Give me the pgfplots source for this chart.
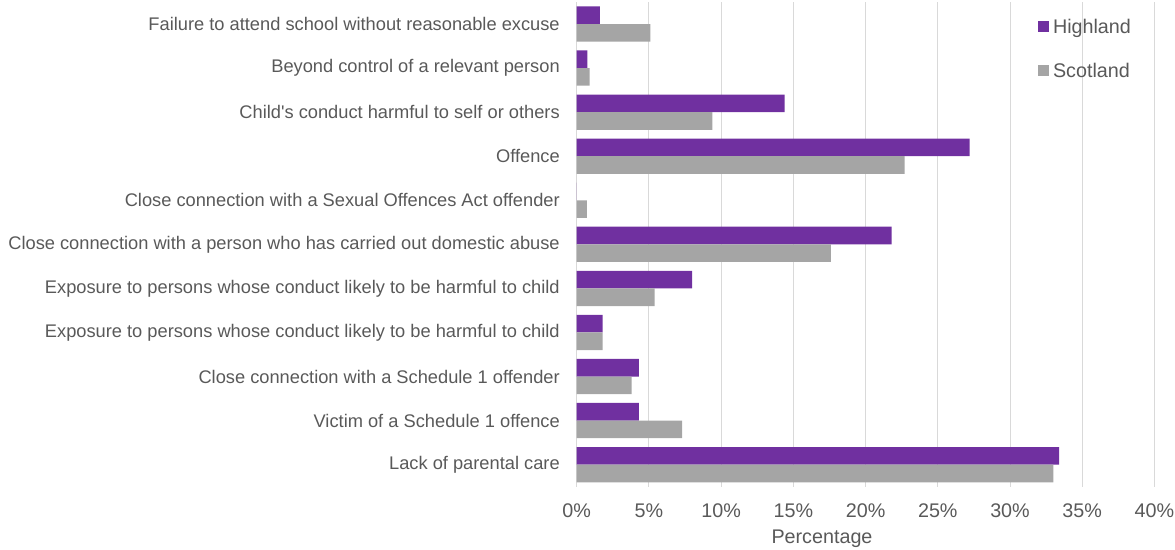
\documentclass[border=0pt]{standalone}
\usepackage{fontspec}
\setmainfont{Liberation Sans}[Ligatures=TeXOff]
\usepackage{pgfplots}
\pgfplotsset{compat=1.18}
\definecolor{hl}{HTML}{7030A0}
\definecolor{sc}{HTML}{A5A5A5}
\definecolor{txt}{HTML}{595959}
\definecolor{grd}{HTML}{D9D9D9}
\newcommand{\lblfont}{\fontsize{13.7}{16}\selectfont}
\newcommand{\legfont}{\fontsize{14.8}{17}\selectfont}
\begin{document}
\begin{tikzpicture}
\useasboundingbox (-432.5pt,-47.5pt) rectangle (448.75pt,365pt);
\begin{axis}[
  at={(0,0)}, anchor=south west,
  scale only axis, width=433.35pt, height=363.5pt,
  xbar, bar width=0.4,
  xmin=0, xmax=40, ymin=-0.5, ymax=10.5,
  xtick={0,5,...,40},
  xticklabels={0\%,5\%,10\%,15\%,20\%,25\%,30\%,35\%,40\%},
  ytick={0,...,10},
  yticklabels={Lack of parental care,
    Victim of a Schedule 1 offence,
    Close connection with a Schedule 1 offender,
    Exposure to persons whose conduct likely to be harmful to child,
    Exposure to persons whose conduct likely to be harmful to child,
    Close connection with a person who has carried out domestic abuse,
    Close connection with a Sexual Offences Act offender,
    Offence,
    Child's conduct harmful to self or others,
    Beyond control of a relevant person,
    Failure to attend school without reasonable excuse},
  axis line style={draw=none},
  major tick length=0pt,
  xmajorgrids, grid style={grd, line width=0.75pt},
  tick label style={font=\lblfont, text=txt},
  xticklabel style={inner sep=0pt, yshift=-12.5pt, font=\legfont},
  yticklabel style={inner sep=0pt, xshift=-12.5pt},
  xlabel={Percentage},
  xlabel style={at={(rel axis cs:0.4246,0)}, anchor=north, yshift=-32pt, inner sep=0pt, font=\legfont, text=txt},
  legend style={at={(rel axis cs:0.798,0.9655)}, anchor=north west, draw=none, fill=none,
    inner sep=0pt, font=\legfont, text=txt, row sep=21.25pt, column sep=3pt,
    nodes={inner sep=0pt}},
  legend cell align=left,
  legend image code/.code={\fill[#1] (0pt,-3.3pt) rectangle (8.25pt,4.95pt);},
]
\addplot[fill=hl, draw=none, bar shift=0.2] coordinates {
  (33.4,0) (4.3,1) (4.3,2) (1.8,3) (8.0,4) (21.8,5) (0,6) (27.2,7) (14.4,8) (0.75,9) (1.6,10)};
\addplot[fill=sc, draw=none, bar shift=-0.2] coordinates {
  (33.0,0) (7.3,1) (3.8,2) (1.8,3) (5.4,4) (17.6,5) (0.7,6) (22.7,7) (9.4,8) (0.9,9) (5.1,10)};
\legend{Highland, Scotland}
\end{axis}
\end{tikzpicture}
\end{document}
